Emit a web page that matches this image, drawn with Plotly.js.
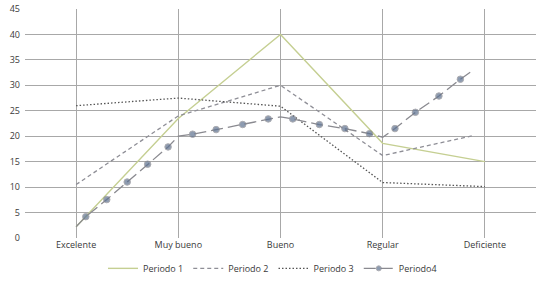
<!DOCTYPE html>
<html>
<head>
<meta charset="utf-8">
<script src="https://cdn.plot.ly/plotly-3.0.1.min.js"></script>
<style>html,body{margin:0;padding:0;background:#fff;}#chart{width:545px;height:281px;}</style>
</head>
<body>
<div id="chart"></div>
<script>
var categories = ["Excelente", "Muy bueno", "Bueno", "Regular", "Deficiente"];
var catPos = [0, 1, 2, 3, 4];
var yTicks = [0, 5, 10, 15, 20, 25, 30, 35, 40, 45];

var periodo1X = [0, 1, 2, 3, 4];
var periodo1 = [2.2, 23.5, 40, 18.6, 15];

var periodo2X = [0, 1, 2, 3, 3.88];
var periodo2 = [10.5, 24, 30, 16.2, 20.1];

var periodo3X = [0, 1, 2, 3, 4];
var periodo3 = [26, 27.5, 25.9, 10.9, 10.1];

var periodo4X = [0, 0.095, 0.30, 0.50, 0.70, 0.90, 1, 1.14, 1.37, 1.63, 1.88, 2, 2.12, 2.38, 2.63, 2.87, 3, 3.12, 3.32, 3.55, 3.76, 3.88];
var periodo4 = [2.2, 4.2, 7.55, 11.0, 14.5, 17.9, 20, 20.4, 21.3, 22.3, 23.4, 23.8, 23.4, 22.3, 21.5, 20.5, 19.8, 21.5, 24.7, 27.9, 31.2, 32.9];
var periodo4Dot = [0, 1, 1, 1, 1, 1, 0, 1, 1, 1, 1, 0, 1, 1, 1, 1, 0, 1, 1, 1, 1, 0];

var traces = [
  {x: periodo1X, y: periodo1, name: "Periodo 1", mode: "lines",
   line: {color: "#c5cf92", width: 1.4}},
  {x: periodo2X, y: periodo2, name: "Periodo 2", mode: "lines",
   line: {color: "#8e8e96", width: 1.3, dash: "4px,3px"}},
  {x: periodo3X, y: periodo3, name: "Periodo 3", mode: "lines",
   line: {color: "#555555", width: 1.3, dash: "1.5px,2px"}},
  {x: periodo4X, y: periodo4, name: "Periodo4", mode: "lines+markers",
   line: {color: "#8a8a90", width: 1.3, dash: "12px,5px"},
   marker: {color: "#5d7190", size: periodo4Dot.map(function(d){return d ? 6.5 : 0;})}}
];

var layout = {
  width: 545, height: 281,
  margin: {l: 25, r: 9, t: 9, b: 43},
  paper_bgcolor: "#ffffff", plot_bgcolor: "#ffffff",
  font: {family: "Open Sans, sans-serif", size: 9, color: "#3a3a3a"},
  showlegend: true,
  legend: {orientation: "h", x: 0.5, xanchor: "center", xref: "container",
           y: 0.045, yanchor: "middle", yref: "container", bgcolor: "rgba(0,0,0,0)",
           itemwidth: 30, font: {size: 9, color: "#3a3a3a"}, tracegroupgap: 0},
  xaxis: {range: [-0.5, 4.5], tickmode: "array", tickvals: catPos, ticktext: categories,
          showgrid: true, gridcolor: "#a8a8a8", gridwidth: 1, zeroline: false,
          showline: false, ticks: "", fixedrange: true, automargin: false},
  yaxis: {range: [0, 45], tickmode: "array", tickvals: yTicks, showgrid: true,
          gridcolor: "#a8a8a8", gridwidth: 1, zeroline: false, showline: false,
          ticks: "", ticklabelstandoff: 4, automargin: false}
};

Plotly.newPlot("chart", traces, layout, {displayModeBar: false, staticPlot: true});
</script>
</body>
</html>
